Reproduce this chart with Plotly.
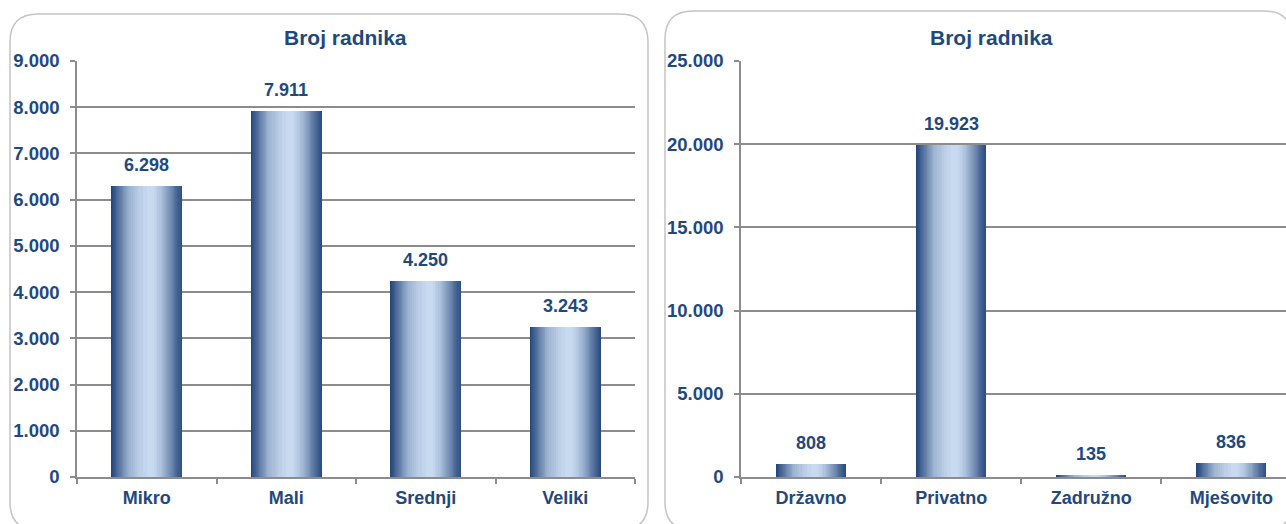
import plotly.graph_objects as go
import numpy as np

# podaci
velicina = ['Mikro', 'Mali', 'Srednji', 'Veliki']
radnici_velicina = [6298, 7911, 4250, 3243]
vlasnistvo = ['Državno', 'Privatno', 'Zadružno', 'Mješovito']
radnici_vlasnistvo = [808, 19923, 135, 836]
naslov = 'Broj radnika'

W, H = 1286, 524
PLAVA = '#1F497D'
SIVA = '#8C8C8C'
FONT = 'Liberation Sans, Arial, sans-serif'

# gradijent stupaca (tamni rubovi, svijetla sredina)
tamna = np.array([0x24, 0x46, 0x7B])
svijetla = np.array([0xC8, 0xDA, 0xF0])
lijevo_f = [0, 0.1, 0.25, 0.4, 0.5]
lijevo_t = [0, 0.3, 0.75, 0.93, 1.0]
desno_f = [1.0, 0.9, 0.8, 0.7, 0.6]
desno_t = [0.05, 0.3, 0.6, 0.85, 1.0]


def boja(t):
    c = tamna + (svijetla - tamna) * t
    return 'rgb(%d,%d,%d)' % tuple(c.round())


def stupci(fig, kategorije, vrijednosti, xa, ya, sirina, n=28):
    for k in range(n):
        t = k / (n - 1)
        l = np.interp(t, lijevo_t, lijevo_f)
        r = np.interp(t, desno_t, desno_f)
        fig.add_trace(go.Bar(x=kategorije, y=vrijednosti, xaxis=xa, yaxis=ya,
                             width=(r - l) * sirina, offset=-sirina / 2 + l * sirina,
                             marker=dict(color=boja(t), line=dict(width=0)),
                             hoverinfo='skip', showlegend=False))


def oznake(kategorije, vrijednosti, xa, ya):
    return [dict(x=c, y=v, xref=xa, yref=ya, text=f'{v:,}'.replace(',', '.'),
                 showarrow=False, yshift=21, yanchor='middle',
                 font=dict(family=FONT, size=18, color=PLAVA, weight='bold'))
            for c, v in zip(kategorije, vrijednosti)]


def okvir(x0, y0, x1, y1, r):
    px = lambda x: x / W
    py = lambda y: 1 - y / H
    d = (f'M {px(x0 + r)},{py(y0)} L {px(x1 - r)},{py(y0)} Q {px(x1)},{py(y0)} {px(x1)},{py(y0 + r)} '
         f'L {px(x1)},{py(y1 - r)} Q {px(x1)},{py(y1)} {px(x1 - r)},{py(y1)} '
         f'L {px(x0 + r)},{py(y1)} Q {px(x0)},{py(y1)} {px(x0)},{py(y1 - r)} '
         f'L {px(x0)},{py(y0 + r)} Q {px(x0)},{py(y0)} {px(x0 + r)},{py(y0)} Z')
    return dict(type='path', path=d, xref='paper', yref='paper',
                line=dict(color='#C4C4C4', width=1.5), layer='below')


def naslov_panela(x):
    return dict(x=x / W, y=1 - 38 / H, xref='paper', yref='paper', text=naslov,
                showarrow=False, xanchor='center', yanchor='middle',
                font=dict(family=FONT, size=21, color=PLAVA, weight='bold'))


fig = go.Figure()
stupci(fig, velicina, radnici_velicina, 'x', 'y', 0.51)
stupci(fig, vlasnistvo, radnici_vlasnistvo, 'x2', 'y2', 0.5)

os_x = dict(type='category', showline=True, linecolor=SIVA, linewidth=1.5,
            ticks='outside', tickson='boundaries', ticklen=5, tickcolor=SIVA, tickwidth=1.5,
            showgrid=False, automargin=False, ticklabelstandoff=4,
            tickfont=dict(family=FONT, size=18, color=PLAVA, weight='bold'))
os_y = dict(showline=True, linecolor=SIVA, linewidth=1.5, ticks='outside', ticklen=5,
            tickcolor=SIVA, tickwidth=1.5, showgrid=True, gridcolor=SIVA, gridwidth=1.5,
            zeroline=False, tickformat=',', automargin=False, ticklabelstandoff=7,
            domain=[1 - 477 / H, 1 - 61 / H],
            tickfont=dict(family=FONT, size=18.5, color=PLAVA, weight='bold'))

fig.update_layout(
    width=W, height=H, margin=dict(l=0, r=0, t=0, b=0),
    paper_bgcolor='white', plot_bgcolor='white', barmode='overlay', bargap=0,
    separators=',.',
    xaxis=dict(os_x, domain=[77 / W, 635 / W], range=[-0.5, 3.5], anchor='y'),
    yaxis=dict(os_y, range=[0, 9000], dtick=1000, anchor='x'),
    xaxis2=dict(os_x, domain=[741 / W, 1.0], range=[-0.5, 3.39], anchor='y2'),
    yaxis2=dict(os_y, range=[0, 25000], dtick=5000, anchor='x2'),
    shapes=[okvir(10, 14, 648, 530, 28), okvir(665, 11, 1292, 530, 28)],
    annotations=oznake(velicina, radnici_velicina, 'x', 'y')
    + oznake(vlasnistvo, radnici_vlasnistvo, 'x2', 'y2')
    + [naslov_panela(345), naslov_panela(991)],
)

fig.write_html('out.html', config={'displayModeBar': False},
               post_script="document.body.style.margin='0';")
